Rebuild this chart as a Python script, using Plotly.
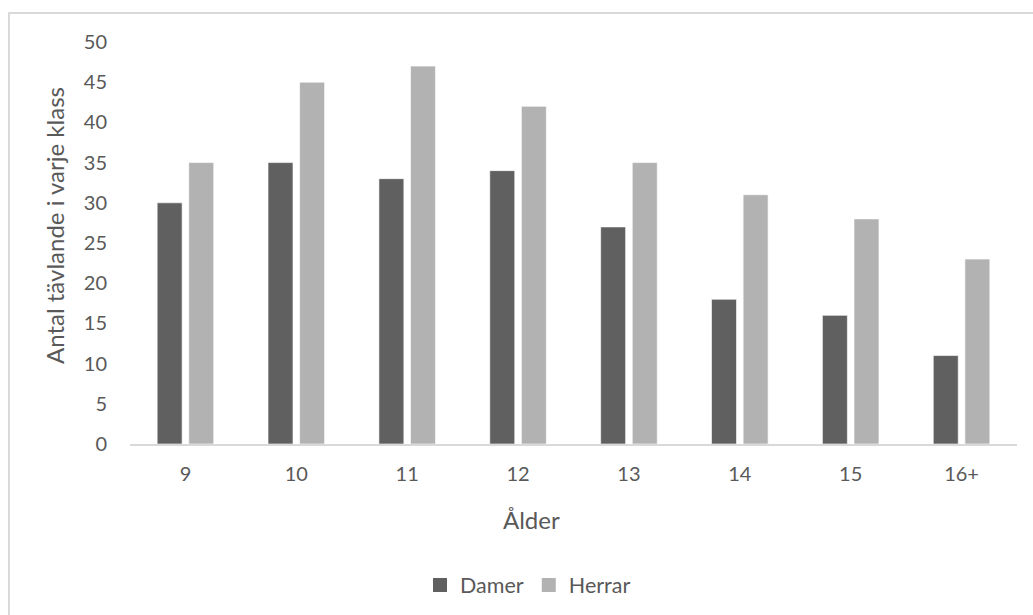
import plotly.graph_objects as go

# Age classes and number of competitors per class
alder = ["9", "10", "11", "12", "13", "14", "15", "16+"]
damer = [30, 35, 33, 34, 27, 18, 16, 11]
herrar = [35, 45, 47, 42, 35, 31, 28, 23]

series = [("Damer", damer, "#606060"), ("Herrar", herrar, "#b2b2b2")]

TEXT = "#595959"
FONT = "Lato"

W, H = 1033, 615
L, R, T, B = 130, 16, 42, 171
pw, ph = W - L - R, H - T - B


def px(x):
    return (x - L) / pw


def py(y):
    return (H - B - y) / ph


fig = go.Figure()
for name, vals, col in series:
    fig.add_trace(go.Bar(
        name=name, x=alder, y=vals, showlegend=False,
        marker=dict(color=col, line=dict(color="#ffffff", width=0.6)),
    ))
# legend keys drawn as larger square markers
for name, vals, col in series:
    fig.add_trace(go.Scatter(
        name=name, x=[None], y=[None], mode="markers",
        marker=dict(symbol="square", size=14, color=col),
        showlegend=True, hoverinfo="skip",
    ))

fig.update_layout(
    width=W, height=H,
    margin=dict(l=L, r=R, t=T, b=B, autoexpand=False),
    paper_bgcolor="white", plot_bgcolor="white",
    barmode="group", bargap=0.43, bargroupgap=0.21,
    font=dict(family=FONT, size=20, color=TEXT),
    legend=dict(
        orientation="h", x=px(420), xanchor="left",
        y=py(585), yanchor="middle",
        font=dict(family=FONT, size=21.5, color=TEXT),
        bgcolor="rgba(0,0,0,0)", itemsizing="trace",
    ),
    xaxis=dict(
        showline=True, linecolor="#d9d9d9", linewidth=1.5,
        showgrid=False, ticks="", zeroline=False,
        tickfont=dict(family=FONT, size=20, color=TEXT),
        ticklabelstandoff=11,
    ),
    yaxis=dict(
        range=[0, 50], dtick=5, tick0=0,
        showline=False, showgrid=False, zeroline=False, ticks="",
        tickfont=dict(family=FONT, size=20, color=TEXT),
        ticklabelstandoff=22,
    ),
    shapes=[dict(
        type="rect", xref="paper", yref="paper",
        x0=px(9), x1=1.2, y0=-0.6, y1=py(13),
        line=dict(color="#d9d9d9", width=2), fillcolor="rgba(0,0,0,0)",
        layer="below",
    )],
    annotations=[
        dict(text="Ålder", xref="paper", yref="paper",
             x=px(531), y=py(519), xanchor="center", yanchor="middle",
             showarrow=False, font=dict(family=FONT, size=24, color=TEXT)),
        dict(text="Antal tävlande i varje klass", xref="paper", yref="paper",
             x=px(54), y=py(226), xanchor="center", yanchor="middle",
             textangle=-90, showarrow=False,
             font=dict(family=FONT, size=24, color=TEXT)),
    ],
)

fig.write_html("out.html")
